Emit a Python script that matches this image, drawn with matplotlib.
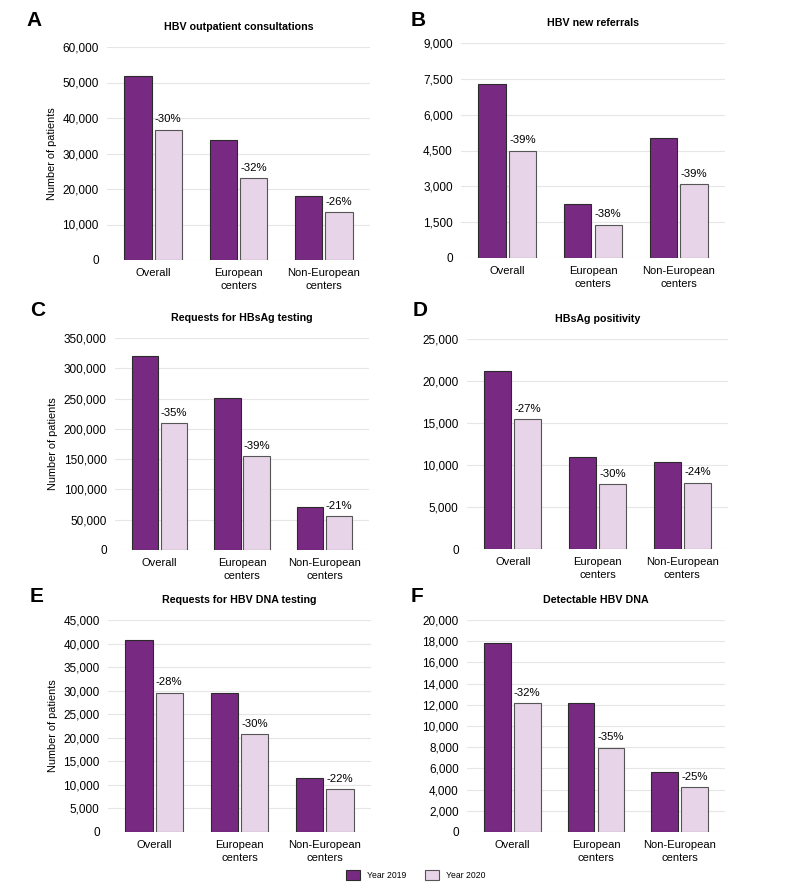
import numpy as np
import matplotlib
matplotlib.use("Agg")
from matplotlib import pyplot as plt
from matplotlib.ticker import FuncFormatter
from matplotlib.patches import Patch

plt.rcParams['font.family'] = ['Liberation Sans', 'DejaVu Sans']

categories = ['Overall', 'European\ncenters', 'Non-European\ncenters']

titles = ['HBV outpatient consultations', 'HBV new referrals',
          'Requests for HBsAg testing', 'HBsAg positivity',
          'Requests for HBV DNA testing', 'Detectable HBV DNA']
letters = ['A', 'B', 'C', 'D', 'E', 'F']

y2019_a = [51900, 33800, 18100]
y2020_a = [36700, 23000, 13400]
pct_a = ['-30%', '-32%', '-26%']

y2019_b = [7290, 2280, 5010]
y2020_b = [4490, 1400, 3080]
pct_b = ['-39%', '-38%', '-39%']

y2019_c = [320000, 250500, 70500]
y2020_c = [209000, 155000, 55700]
pct_c = ['-35%', '-39%', '-21%']

y2019_d = [21250, 10950, 10300]
y2020_d = [15450, 7720, 7880]
pct_d = ['-27%', '-30%', '-24%']

y2019_e = [40800, 29500, 11400]
y2020_e = [29500, 20700, 9100]
pct_e = ['-28%', '-30%', '-22%']

y2019_f = [17850, 12150, 5680]
y2020_f = [12150, 7950, 4230]
pct_f = ['-32%', '-35%', '-25%']

ymax = [60000, 9000, 350000, 25000, 45000, 20000]
ystep = [10000, 1500, 50000, 5000, 5000, 2000]

series = [(y2019_a, y2020_a, pct_a), (y2019_b, y2020_b, pct_b),
          (y2019_c, y2020_c, pct_c), (y2019_d, y2020_d, pct_d),
          (y2019_e, y2020_e, pct_e), (y2019_f, y2020_f, pct_f)]

# axes boxes in pixels: left, right, bottom(y of zero), top
boxes = [(107, 370, 260, 47), (461, 725, 258, 43),
         (115, 369, 550, 338), (467, 728, 549, 339),
         (108, 371, 832, 620), (467, 725, 832, 620)]
letter_pos = [(26, 21), (411, 21), (30, 311), (413, 311), (30, 596), (411, 596)]

W, H = 787, 889
dark = '#782A82'
light = '#E8D4E8'

fig = plt.figure(figsize=(W / 100, H / 100), dpi=100)

x = np.arange(len(categories))
bw = 0.32
off = 0.178

for i, (v19, v20, pct) in enumerate(series):
    l, r, b, t = boxes[i]
    ax = fig.add_axes([l / W, 1 - b / H, (r - l) / W, (b - t) / H])
    ax.bar(x - off, v19, bw, color=dark, edgecolor='#2b2b2b', linewidth=0.8, zorder=3)
    ax.bar(x + off, v20, bw, color=light, edgecolor='#555555', linewidth=0.8, zorder=3)
    for j in range(len(categories)):
        ax.annotate(pct[j], (x[j] + off, v20[j]), xytext=(0, 4),
                    textcoords='offset points', ha='center', va='bottom', fontsize=8.2)
    ax.set_xlim(-0.54, 2.54)
    ax.set_ylim(0, ymax[i])
    ax.set_yticks(np.arange(0, ymax[i] + 1, ystep[i]))
    ax.yaxis.set_major_formatter(FuncFormatter(lambda v, p: f'{int(v):,}'))
    ax.set_xticks(x)
    ax.set_xticklabels(categories, fontsize=8, linespacing=1.3)
    ax.tick_params(axis='y', length=0, labelsize=8.5, pad=6)
    ax.tick_params(axis='x', length=0, pad=6)
    ax.grid(axis='y', color='#e6e6e6', linewidth=0.8, zorder=0)
    for s in ax.spines.values():
        s.set_visible(False)
    ax.set_title(titles[i], fontsize=7.7, fontweight='bold', pad=12)
    if i % 2 == 0:
        ax.set_ylabel('Number of patients', fontsize=7.8, labelpad=4)
    lx, ly = letter_pos[i]
    fig.text(lx / W, 1 - ly / H, letters[i], fontsize=15, fontweight='bold',
             ha='left', va='center')

handles = [Patch(facecolor=dark, edgecolor='#2b2b2b', linewidth=0.8, label='Year 2019'),
           Patch(facecolor=light, edgecolor='#555555', linewidth=0.8, label='Year 2020')]
fig.legend(handles=handles, loc='center', bbox_to_anchor=(416 / W, 1 - 875 / H), ncol=2,
           frameon=False, fontsize=6.2, handlelength=1.6, handleheight=1.4,
           columnspacing=2.2, handletextpad=0.8)

fig.savefig('out.png', dpi=100, facecolor='white')
